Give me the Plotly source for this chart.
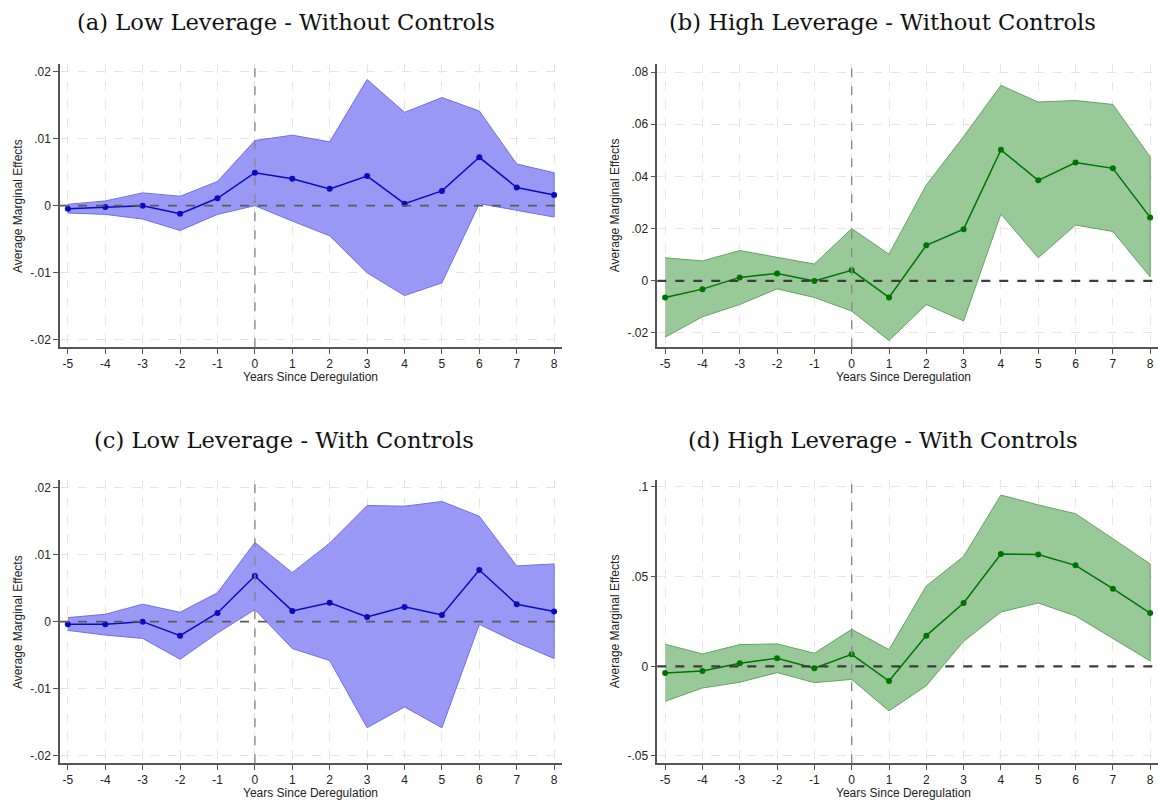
import plotly.graph_objects as go

# ---------------- data ----------------
years = [-5, -4, -3, -2, -1, 0, 1, 2, 3, 4, 5, 6, 7, 8]

a_est = [-0.00045, -0.0002, 0.0, -0.0012, 0.0011, 0.0049, 0.0040, 0.0025, 0.0044, 0.0003, 0.0022, 0.0072, 0.0027, 0.0016]
a_hi = [0.0002, 0.0007, 0.0019, 0.0014, 0.0036, 0.0097, 0.0105, 0.0095, 0.0188, 0.0139, 0.0161, 0.0141, 0.0062, 0.0049]
a_lo = [-0.0011, -0.0013, -0.0020, -0.0037, -0.0013, 0.0000, -0.0023, -0.0045, -0.0100, -0.0134, -0.0115, 0.0003, -0.0007, -0.0017]

b_est = [-0.0064, -0.0032, 0.0013, 0.0028, -0.0001, 0.0040, -0.0064, 0.0136, 0.0198, 0.0502, 0.0385, 0.0453, 0.0431, 0.0243]
b_hi = [0.0088, 0.0076, 0.0116, 0.0090, 0.0064, 0.0200, 0.0102, 0.0367, 0.0553, 0.0749, 0.0685, 0.0691, 0.0676, 0.0475]
b_lo = [-0.0216, -0.0138, -0.0091, -0.0031, -0.0064, -0.0116, -0.0229, -0.0091, -0.0154, 0.0256, 0.0088, 0.0214, 0.0189, 0.0015]

c_est = [-0.0004, -0.0004, 0.0, -0.0021, 0.0013, 0.0068, 0.0016, 0.0028, 0.0007, 0.0022, 0.0010, 0.0077, 0.0026, 0.0015]
c_hi = [0.0006, 0.0011, 0.0026, 0.0014, 0.0043, 0.0118, 0.0073, 0.0117, 0.0173, 0.0172, 0.0179, 0.0157, 0.0083, 0.0086]
c_lo = [-0.0013, -0.0020, -0.0025, -0.0056, -0.0017, 0.0018, -0.0040, -0.0058, -0.0158, -0.0127, -0.0158, -0.0004, -0.0031, -0.0055]

d_est = [-0.0037, -0.0026, 0.0017, 0.0045, -0.0011, 0.0067, -0.0082, 0.0171, 0.0353, 0.0626, 0.0623, 0.0563, 0.0433, 0.0297]
d_hi = [0.0123, 0.0069, 0.0121, 0.0125, 0.0073, 0.0206, 0.0093, 0.0448, 0.0613, 0.0955, 0.0900, 0.0851, 0.0712, 0.0571]
d_lo = [-0.0195, -0.0121, -0.0089, -0.0035, -0.0091, -0.0073, -0.0249, -0.0108, 0.0139, 0.0303, 0.0353, 0.0281, 0.0154, 0.0030]

small_ticks = [-0.02, -0.01, 0, 0.01, 0.02]
small_labels = ["-.02", "-.01", "0", ".01", ".02"]
b_ticks = [-0.02, 0, 0.02, 0.04, 0.06, 0.08]
b_labels = ["-.02", "0", ".02", ".04", ".06", ".08"]
d_ticks = [-0.05, 0, 0.05, 0.1]
d_labels = ["-.05", "0", ".05", ".1"]

titles = ["(a) Low Leverage - Without Controls",
          "(b) High Leverage - Without Controls",
          "(c) Low Leverage - With Controls",
          "(d) High Leverage - With Controls"]
x_title = "Years Since Deregulation"
y_title = "Average Marginal Effects"

# ---------------- layout geometry ----------------
W, H = 1158, 801
BLUE = dict(fill="rgba(153,153,245,1)", edge="rgb(110,110,235)", line="rgb(10,10,190)")
GREEN = dict(fill="rgba(153,201,153,1)", edge="rgb(95,165,95)", line="rgb(0,115,0)")

panels = [
    dict(est=a_est, hi=a_hi, lo=a_lo, col=BLUE, ticks=small_ticks, labels=small_labels,
         yr=[-0.0211, 0.0211], px=(60, 562), py=(64, 347.3), title=titles[0], tx=286, ty=22, zl=("#5a5a5a", 1.6)),
    dict(est=b_est, hi=b_hi, lo=b_lo, col=GREEN, ticks=b_ticks, labels=b_labels,
         yr=[-0.0255, 0.0831], px=(657.3, 1158), py=(64, 347.3), title=titles[1], tx=882, ty=22, zl=("#3c3c3c", 2.2)),
    dict(est=c_est, hi=c_hi, lo=c_lo, col=BLUE, ticks=small_ticks, labels=small_labels,
         yr=[-0.0211, 0.0211], px=(60, 562), py=(480, 763.3), title=titles[2], tx=284, ty=440, zl=("#5a5a5a", 1.6)),
    dict(est=d_est, hi=d_hi, lo=d_lo, col=GREEN, ticks=d_ticks, labels=d_labels,
         yr=[-0.0541, 0.1039], px=(657.3, 1158), py=(480, 763.3), title=titles[3], tx=883, ty=440, zl=("#3c3c3c", 2.2)),
]

fig = go.Figure()
shapes = []
annotations = []
layout_axes = {}
AXIS_FONT = dict(family="Liberation Sans, Arial, sans-serif", size=12, color="#222222")

for i, p in enumerate(panels, start=1):
    xa = "x" if i == 1 else f"x{i}"
    ya = "y" if i == 1 else f"y{i}"
    # CI band
    fig.add_trace(go.Scatter(
        x=years + years[::-1], y=p["hi"] + p["lo"][::-1],
        fill="toself", fillcolor=p["col"]["fill"], mode="lines",
        line=dict(color=p["col"]["edge"], width=1),
        hoverinfo="skip", showlegend=False, xaxis=xa, yaxis=ya))
    # point estimates
    fig.add_trace(go.Scatter(
        x=years, y=p["est"], mode="lines+markers",
        line=dict(color=p["col"]["line"], width=1.5),
        marker=dict(color=p["col"]["line"], size=6),
        showlegend=False, xaxis=xa, yaxis=ya, cliponaxis=False))

    xd = [p["px"][0] / W, min(1.0, p["px"][1] / W)]
    yd = [1 - p["py"][1] / H, 1 - p["py"][0] / H]
    common = dict(showline=True, linecolor="#555555", linewidth=1.5, ticks="outside",
                  ticklen=5, tickwidth=1.2, tickcolor="#555555", tickfont=AXIS_FONT,
                  showgrid=True, gridcolor="#e4e4e4", gridwidth=1, griddash="dash",
                  zeroline=False, mirror=False)
    layout_axes["xaxis" if i == 1 else f"xaxis{i}"] = dict(
        domain=xd, range=[-5.21, 8.21], anchor=ya, tickmode="array",
        tickvals=years, ticktext=[str(v) for v in years], **common)
    layout_axes["yaxis" if i == 1 else f"yaxis{i}"] = dict(
        domain=yd, range=p["yr"], anchor=xa, tickmode="array",
        tickvals=p["ticks"], ticktext=p["labels"], **common)

    xr = xa + " domain"
    yr = ya + " domain"
    shapes.append(dict(type="line", xref=xr, yref=ya, x0=0, x1=1, y0=0, y1=0,
                       line=dict(color=p["zl"][0], width=p["zl"][1], dash="dash"), layer="above"))
    shapes.append(dict(type="line", xref=xa, yref=yr, x0=0, x1=0, y0=0, y1=1,
                       line=dict(color="#8a8a8a", width=1.4, dash="dash"), layer="above"))

    # panel title
    annotations.append(dict(text=p["title"], x=p["tx"] / W, y=1 - p["ty"] / H,
                            xref="paper", yref="paper", showarrow=False,
                            xanchor="center", yanchor="middle",
                            font=dict(family="DejaVu Serif, serif", size=22.6, color="#111111")))
    # axis titles
    annotations.append(dict(text=x_title, x=(p["px"][0] + p["px"][1]) / 2 / W if i % 2 else (657.3 + 1150) / 2 / W,
                            y=1 - (p["py"][1] + 29.5) / H, xref="paper", yref="paper",
                            showarrow=False, xanchor="center", yanchor="middle", font=AXIS_FONT))
    annotations.append(dict(text=y_title, x=(p["px"][0] - 42.7) / W, y=1 - (p["py"][0] + p["py"][1]) / 2 / H,
                            xref="paper", yref="paper", textangle=-90,
                            showarrow=False, xanchor="center", yanchor="middle", font=AXIS_FONT))

fig.update_layout(width=W, height=H, margin=dict(l=0, r=0, t=0, b=0),
                  paper_bgcolor="white", plot_bgcolor="white",
                  shapes=shapes, annotations=annotations, showlegend=False,
                  **layout_axes)

fig.write_html("out.html", config={"displayModeBar": False})

# remove the browser's default 8px body margin so the figure sits at the page origin
with open("out.html", "r", encoding="utf-8") as fh:
    html = fh.read()
html = html.replace("<head>", "<head><style>html,body{margin:0;padding:0;overflow:hidden;}</style>", 1)
with open("out.html", "w", encoding="utf-8") as fh:
    fh.write(html)
